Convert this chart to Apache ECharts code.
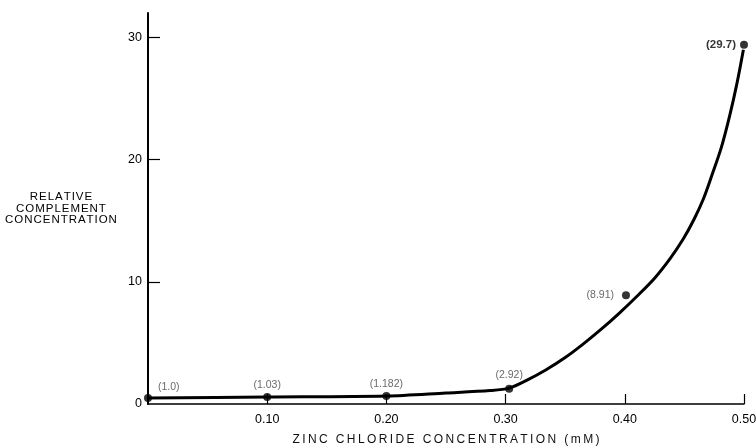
<!DOCTYPE html>
<html>
<head>
<meta charset="utf-8">
<script src="https://cdn.jsdelivr.net/npm/echarts@6/dist/echarts.min.js"></script>
<style>
  html, body { margin: 0; padding: 0; background: #fff; }
  #main { width: 756px; height: 448px; }
</style>
</head>
<body>
<div id="main"></div>
<script>
// measured points (x = mM ZnCl2, y = where the dot sits on the plot)
var pointX = [0, 0.10, 0.20, 0.303, 0.401, 0.50];
var pointY = [0.5, 0.57, 0.65, 1.25, 8.9, 29.4];
var pointLabels = ['(1.0)', '(1.03)', '(1.182)', '(2.92)', '(8.91)', '(29.7)'];

// fitted curve
var curveX = [0, 0.10, 0.20, 0.25, 0.287, 0.303, 0.318, 0.334, 0.35, 0.365, 0.38, 0.395, 0.41, 0.425, 0.438, 0.449, 0.458, 0.466, 0.473, 0.481, 0.488, 0.494, 0.4995];
var curveY = [0.5, 0.57, 0.65, 0.9, 1.1, 1.3, 1.95, 2.8, 3.8, 4.9, 6.1, 7.4, 8.8, 10.3, 11.9, 13.5, 15.1, 16.8, 18.7, 21.0, 23.6, 26.2, 29.0];

var xTicks = [0.10, 0.20, 0.30, 0.40, 0.50];
var yTicks = [0, 10, 20, 30];

var xTitle = 'ZINC CHLORIDE CONCENTRATION (mM)';
var yTitle = ['RELATIVE', 'COMPLEMENT', 'CONCENTRATION'];

// the original lettering is widely spaced
function spaced(s, gap) {
    return s.split('').join(gap);
}

var chart = echarts.init(document.getElementById('main'));

var curveData = curveX.map(function (x, i) { return [x, curveY[i]]; });

var pointData = pointX.map(function (x, i) {
    var lbl = { show: true, formatter: pointLabels[i], position: 'top', distance: 2 };
    if (i == 0) { lbl.position = 'right'; lbl.offset = [4, -11]; }
    if (i == 3) { lbl.offset = [0, -2]; }
    if (i == 4) { lbl.position = 'left'; lbl.distance = 8; }
    if (i == 5) { lbl.position = 'left'; lbl.distance = 4; lbl.fontWeight = 'bold'; lbl.color = '#000'; lbl.fontSize = 11.5; }
    return { value: [x, pointY[i]], label: lbl };
});

var option = {
    animation: false,
    backgroundColor: '#fff',
    textStyle: { fontFamily: 'Liberation Sans, Arial, sans-serif', color: '#000' },
    grid: { left: 148, right: 12, top: 13, bottom: 44, outerBoundsMode: 'none' },
    xAxis: {
        type: 'value',
        min: 0,
        max: 0.5,
        interval: 0.1,
        name: spaced(xTitle, '\u2009'),
        nameLocation: 'middle',
        nameGap: 30,
        nameTextStyle: { fontSize: 12, color: '#111' },
        splitLine: { show: false },
        axisLine: { lineStyle: { color: '#000', width: 1.5 } },
        axisTick: { inside: true, length: 10, customValues: xTicks, lineStyle: { color: '#000', width: 1.2 } },
        axisLabel: {
            customValues: xTicks,
            margin: 9,
            fontSize: 12.5,
            color: '#000',
            formatter: function (v) { return v.toFixed(2); }
        }
    },
    yAxis: {
        type: 'value',
        min: 0,
        max: 32,
        name: yTitle.map(function (s) { return spaced(s, '\u200a'); }).join('\n'),
        nameLocation: 'middle',
        nameRotate: 0,
        nameGap: 87,
        nameTextStyle: { fontSize: 11.5, color: '#000', align: 'center', lineHeight: 11.5 },
        splitLine: { show: false },
        axisLine: { lineStyle: { color: '#000', width: 2 } },
        axisTick: { inside: true, length: 12, customValues: [10, 20, 30], lineStyle: { color: '#000', width: 1.2 } },
        axisLabel: { customValues: yTicks, margin: 6, fontSize: 12.5, color: '#000' }
    },
    series: [
        {
            type: 'line',
            data: curveData,
            smooth: 0.3,
            showSymbol: false,
            lineStyle: { color: '#000', width: 3 },
            z: 2
        },
        {
            type: 'scatter',
            data: pointData,
            symbolSize: 8,
            itemStyle: { color: '#000' },
            label: { fontSize: 10.5, color: '#444' },
            z: 3
        }
    ]
};

chart.setOption(option);
</script>
</body>
</html>
